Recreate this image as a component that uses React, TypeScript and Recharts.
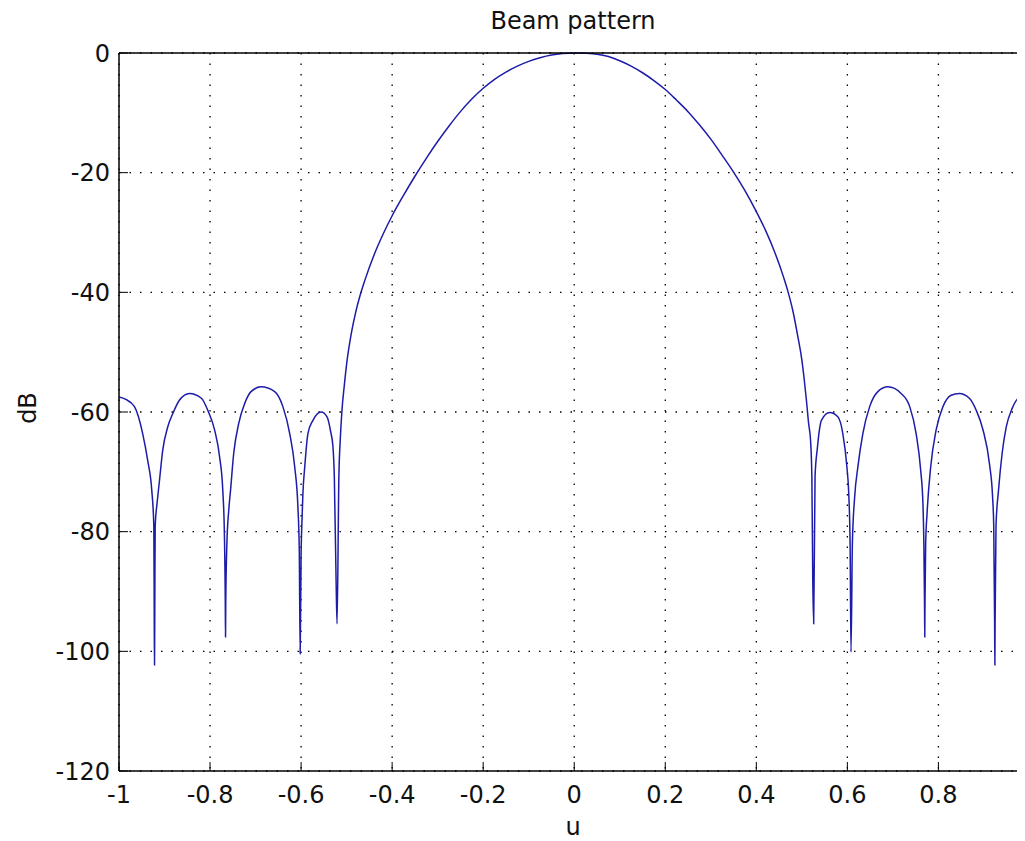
import React from 'react';
import { LineChart, Line, XAxis, YAxis, CartesianGrid } from 'recharts';

// beam pattern (u, dB), same line layout in both arrays
const uValues = [
  -1.0, -0.985, -0.966, -0.948, -0.937, -0.928, -0.9235, -0.9225, -0.922, -0.9215,
  -0.9205, -0.916, -0.911, -0.904, -0.893, -0.882, -0.867, -0.845, -0.819, -0.805,
  -0.79, -0.779, -0.772, -0.7685, -0.7665, -0.766, -0.7655, -0.763, -0.759, -0.755,
  -0.748, -0.737, -0.724, -0.71, -0.688, -0.658, -0.64, -0.625, -0.614, -0.607,
  -0.604, -0.602, -0.6, -0.598, -0.596, -0.592, -0.585, -0.574, -0.556, -0.543,
  -0.535, -0.53, -0.527, -0.523, -0.521, -0.517, -0.514,
  // main lobe
  -0.51, -0.505, -0.5, -0.49, -0.48, -0.47, -0.46, -0.44, -0.42, -0.4,
  -0.375, -0.35, -0.325, -0.3, -0.275, -0.25, -0.225, -0.2, -0.175, -0.15,
  -0.125, -0.1, -0.075, -0.05, -0.025, 0.0,
  0.025, 0.05, 0.075, 0.1, 0.125, 0.15, 0.175, 0.2, 0.225, 0.25,
  0.275, 0.3, 0.325, 0.35, 0.375, 0.4, 0.42, 0.44, 0.46, 0.47,
  0.48, 0.49, 0.5, 0.505, 0.51, 0.515, 0.519,
  // right side lobes
  0.522, 0.524, 0.526, 0.529, 0.534, 0.543, 0.561, 0.579, 0.59, 0.599,
  0.603, 0.606, 0.608, 0.611, 0.616, 0.623, 0.634, 0.649, 0.667, 0.689,
  0.718, 0.737, 0.751, 0.761, 0.766, 0.768, 0.7695, 0.77, 0.7705, 0.772,
  0.775, 0.783, 0.795, 0.81, 0.828, 0.846, 0.868, 0.883, 0.898, 0.912,
  0.919, 0.9215, 0.9235, 0.924, 0.9245, 0.9265, 0.932, 0.94, 0.949, 0.962,
  0.976, 0.99,
];

const dbValues = [
  -57.5, -57.9, -59.1, -63.6, -68.1, -73.1, -79.0, -95.5, -102.3, -95.5,
  -79.0, -75.0, -71.4, -66.4, -62.5, -60.3, -58.0, -56.9, -57.7, -59.7,
  -63.0, -67.5, -73.1, -80.3, -92.0, -97.6, -92.0, -82.0, -76.5, -73.1,
  -66.9, -61.9, -58.6, -56.6, -55.8, -56.6, -59.1, -63.6, -69.2, -75.9,
  -83.0, -100.4, -84.0, -78.0, -73.6, -69.2, -63.6, -61.4, -60.0, -60.8,
  -63.3, -65.8, -70.8, -88.7, -95.4, -70.8, -64.7,
  // main lobe
  -59.5, -55.5, -52.0, -47.0, -43.3, -40.4, -38.0, -33.8, -30.3, -27.2,
  -23.8, -20.6, -17.6, -14.8, -12.2, -9.8, -7.7, -5.9, -4.4, -3.2,
  -2.2, -1.4, -0.8, -0.35, -0.1, 0.0,
  -0.05, -0.2, -0.6, -1.3, -2.2, -3.3, -4.6, -6.1, -7.9, -9.8,
  -12.0, -14.4, -17.1, -19.9, -23.0, -26.5, -29.6, -33.2, -37.5, -40.0,
  -43.0, -46.9, -51.3, -54.4, -58.0, -62.0, -64.6,
  // right side lobes
  -70.8, -88.0, -95.4, -70.8, -66.1, -61.4, -60.1, -60.8, -63.6, -69.2,
  -73.6, -82.0, -100.1, -82.0, -74.2, -69.2, -63.6, -59.1, -56.6, -55.8,
  -56.9, -59.1, -63.6, -69.7, -75.3, -82.0, -92.0, -97.6, -92.0, -82.0,
  -77.0, -69.2, -63.0, -59.1, -57.2, -56.9, -57.7, -59.7, -63.0, -68.6,
  -74.2, -79.0, -95.5, -102.3, -95.5, -79.0, -73.1, -66.9, -62.5, -59.4,
  -57.7, -57.5,
];

const xTicks = [-1, -0.8, -0.6, -0.4, -0.2, 0, 0.2, 0.4, 0.6, 0.8];
const yTicks = [0, -20, -40, -60, -80, -100, -120];

const data = uValues.map((u, i) => ({ u, db: dbValues[i] }));

const FONT = 'DejaVu Sans';
const xDomain: [number, number] = [-1, 0.988];
const axisStyle = { stroke: '#000', strokeWidth: 1.5 };
const tickStyle = { stroke: '#000', strokeWidth: 1 };

export default function App() {
  return (
    <div style={{ position: 'relative', width: 1017, height: 833, fontFamily: FONT }}>
      <LineChart width={1017} height={833} data={data} margin={{ top: 44, right: 0, bottom: 0, left: 0 }}>
        <CartesianGrid stroke="#000" strokeWidth={1.3} strokeDasharray="1.5 9" />
        <XAxis
          dataKey="u"
          type="number"
          domain={xDomain}
          allowDataOverflow
          ticks={xTicks}
          interval={0}
          height={70}
          tickSize={-9}
          tickMargin={24}
          axisLine={axisStyle}
          tickLine={tickStyle}
          tick={{ fontSize: 24, fill: '#111', fontFamily: FONT }}
        />
        <XAxis
          xAxisId="top"
          orientation="top"
          dataKey="u"
          type="number"
          domain={xDomain}
          allowDataOverflow
          ticks={xTicks}
          interval={0}
          height={1}
          tickSize={-9}
          axisLine={axisStyle}
          tickLine={tickStyle}
          tick={false}
        />
        <YAxis
          type="number"
          domain={[-120, 0]}
          ticks={yTicks}
          interval={0}
          width={111}
          tickSize={-9}
          tickMargin={18}
          axisLine={axisStyle}
          tickLine={tickStyle}
          tick={{ fontSize: 24, fill: '#111', fontFamily: FONT }}
        />
        <YAxis
          yAxisId="right"
          orientation="right"
          type="number"
          domain={[-120, 0]}
          ticks={yTicks}
          interval={0}
          width={1}
          tickSize={-9}
          axisLine={false}
          tickLine={tickStyle}
          tick={false}
        />
        <Line
          type="monotone"
          dataKey="db"
          stroke="#1c1ca8"
          strokeWidth={1.5}
          dot={false}
          isAnimationActive={false}
        />
      </LineChart>
      <svg
        width={1017}
        height={833}
        style={{ position: 'absolute', left: 0, top: 0, pointerEvents: 'none' }}
      >
        <text x={565} y={21} textAnchor="middle" fontSize={24} fill="#111" fontFamily={FONT}>
          Beam pattern
        </text>
        <text x={565} y={827} textAnchor="middle" fontSize={24} fill="#111" fontFamily={FONT}>
          u
        </text>
        <text
          x={28}
          y={400}
          textAnchor="middle"
          fontSize={24}
          fill="#111"
          fontFamily={FONT}
          transform="rotate(-90 28 400)"
        >
          dB
        </text>
      </svg>
    </div>
  );
}
